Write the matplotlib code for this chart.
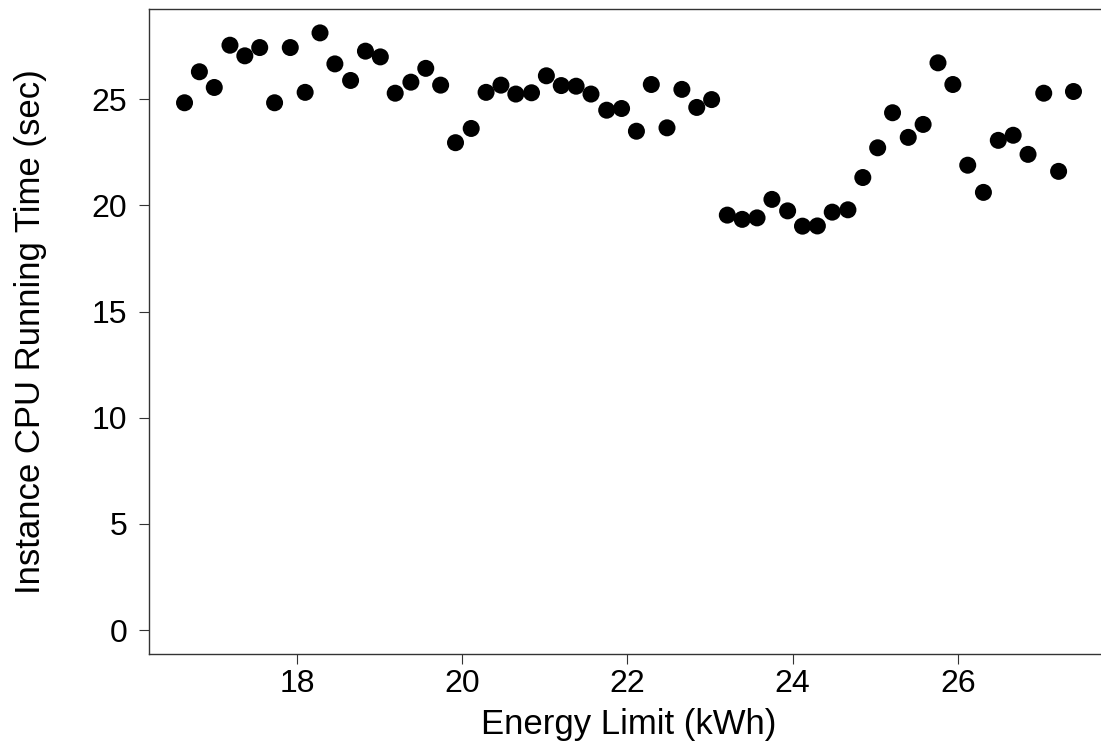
import matplotlib
matplotlib.use('Agg')
import matplotlib.pyplot as plt

plt.rcParams['font.family'] = ['Liberation Sans', 'DejaVu Sans']

# Energy limit (kWh) and measured CPU time (sec)
energy = [16.64, 16.82, 17.00, 17.19, 17.37, 17.55, 17.73, 17.92, 18.10, 18.28,
          18.46, 18.65, 18.83, 19.01, 19.19, 19.38, 19.56, 19.74, 19.92, 20.11,
          20.29, 20.47, 20.65, 20.84, 21.02, 21.20, 21.38, 21.56, 21.75, 21.93,
          22.11, 22.29, 22.48, 22.66, 22.84, 23.02, 23.21, 23.39, 23.57, 23.75,
          23.94, 24.12, 24.30, 24.48, 24.67, 24.85, 25.03, 25.21, 25.40, 25.58,
          25.76, 25.94, 26.12, 26.31, 26.49, 26.67, 26.85, 27.04, 27.22, 27.40]
cpu_time = [24.83, 26.29, 25.55, 27.54, 27.04, 27.43, 24.83, 27.43, 25.32, 28.12,
            26.66, 25.88, 27.26, 26.99, 25.28, 25.80, 26.45, 25.66, 22.95, 23.62,
            25.32, 25.66, 25.24, 25.30, 26.10, 25.64, 25.61, 25.24, 24.48, 24.56,
            23.49, 25.69, 23.65, 25.46, 24.61, 24.98, 19.54, 19.34, 19.41, 20.28,
            19.74, 19.02, 19.03, 19.68, 19.79, 21.31, 22.71, 24.36, 23.20, 23.81,
            26.71, 25.69, 21.89, 20.61, 23.06, 23.30, 22.40, 25.28, 21.60, 25.36]

fig = plt.figure(figsize=(11.01, 7.45), dpi=100)
ax = fig.add_axes([149/1101, 91/745, 960/1101, 645/745])

ax.scatter(energy, cpu_time, s=150, color='black', edgecolors='none', zorder=3)

ax.set_xlim(16.21, 27.83)
ax.set_ylim(-1.125, 29.245)
ax.set_xticks([18, 20, 22, 24, 26])
ax.set_yticks([0, 5, 10, 15, 20, 25])

for sp in ax.spines.values():
    sp.set_linewidth(1.0)
    sp.set_color('#333333')
ax.tick_params(axis='both', direction='out', length=7.5, width=0.8,
               color='#333333', labelsize=23)
ax.tick_params(axis='y', pad=8)
ax.tick_params(axis='x', pad=3)

ax.set_xlabel('Energy Limit (kWh)', fontsize=25, labelpad=7)
ax.set_ylabel('Instance CPU Running Time (sec)', fontsize=25)
ax.yaxis.set_label_coords(-0.106, 0.5)

fig.savefig('out.png', dpi=100)
